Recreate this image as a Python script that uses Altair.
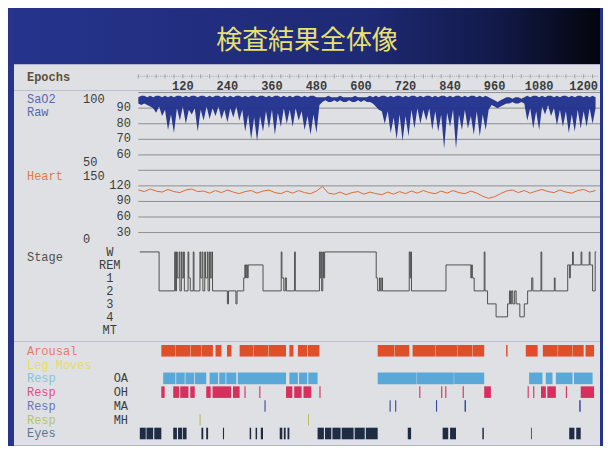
import altair as alt
import pandas as pd

# ---------------- data ----------------
TITLE = ["検査結果全体像"]

EPOCH_LABELS = [120, 240, 360, 480, 600, 720, 840, 960, 1080, 1200]
EPOCH_DOTS = list(range(0, 1237, 6))
EPOCH_TICKS = list(range(0, 1237, 24))

SAO2_EPOCH = list(range(0, 1233, 8))
SAO2_LOW = [93, 92, 93, 92, 91, 90,
            87, 91, 85, 89, 76, 86, 74, 90, 82, 91, 80, 89, 86, 90,
            75, 89, 82, 91, 83, 90, 85, 91, 83, 89, 81, 90, 84, 91, 82, 89,
            75, 86, 70, 84, 69, 85, 75, 88, 77, 89, 73, 87, 78, 90, 80, 89,
            78, 90, 82, 88, 76, 85, 73, 86, 74,
            92,
            94, 95, 94, 94, 95, 94, 95, 94, 94, 95, 94, 94, 95, 94, 95, 94, 94, 93,
            91, 89, 88,
            80, 88, 74, 84, 70, 86, 69, 85, 72, 89, 77, 90, 80, 89, 82, 90, 76, 88,
            75, 86, 64, 87, 78, 89, 64, 86, 76, 89, 77, 85, 73, 88, 72, 86, 76, 89,
            92, 91, 90, 91, 92,
            93, 93, 94, 93, 93, 94, 93,
            82, 90, 77, 88, 76, 91, 86, 92, 85, 90, 79, 89, 78, 88, 74, 86, 75, 89,
            77, 88, 78, 90, 80,
            90]
SAO2_HIGH = [97, 98, 98, 97, 98, 97, 98, 98, 97, 98, 97, 98, 97, 98, 98, 97, 98, 97, 98, 98,
             97, 98, 98, 97, 98, 97, 98, 98, 97, 98, 97, 98, 97, 98, 98, 97, 98, 97, 98, 98,
             97, 98, 98, 97, 98, 97, 98, 98, 97, 98, 97, 98, 97, 98, 98, 97, 98, 97, 98, 98,
             97, 97,
             97, 97, 98, 97, 97, 97, 98, 97, 97, 97, 97, 98, 97, 97, 97, 97, 98, 97,
             98, 97, 98, 98, 97, 98, 97, 98, 98, 97, 98, 97, 98, 98, 97, 98, 97, 98, 98, 97,
             98, 97, 98, 98, 97, 98, 97, 98, 98, 97, 98, 97, 98, 98, 97, 98, 97, 98, 97,
             96, 95, 94, 95, 96,
             97, 97, 96, 97, 97, 96, 97,
             98, 97, 98, 98, 97, 98, 97, 98, 98, 97, 98, 97, 98, 98, 97, 98, 97, 98, 98, 97,
             98, 97, 98, 97]
SAO2_GRID = [100, 90, 80, 70, 60]
SAO2_TICKS = [90, 80, 70, 60]
SAO2_MAX = [100]
SAO2_MIN = [50]

HEART_EPOCH = list(range(0, 1233, 16))
HEART = [112, 109, 114, 110, 108, 113, 109, 107, 112, 114, 109,
         110, 106, 111, 107, 112, 108, 105, 109, 111, 106, 110, 112, 107, 105, 110, 106, 111, 107, 105, 110,
         119, 106,
         104, 108, 103, 107, 109, 104, 108, 105, 103, 108, 104, 109, 105,
         110, 106, 111, 107, 105, 110, 106, 111, 107, 105, 110, 106,
         100, 96, 99,
         105, 110, 112, 107, 111, 106, 110, 113, 109, 107, 112, 108, 106, 111, 113, 108, 111]
HEART_GRID = [150, 120, 90, 60, 30]
HEART_TICKS = [120, 90, 60, 30]
HEART_MAX = [150]
HEART_MIN = [0]

STAGE_NAMES = ["W", "REM", "1", "2", "3", "4", "MT"]
STAGE_EPOCH = [4, 56, 98, 100, 103, 105, 110, 112, 116, 118, 122, 124, 134, 136, 140, 148, 150,
               166, 168, 172, 174, 179, 181, 186, 188, 192, 194, 198, 200, 240, 243, 263, 266,
               284, 287, 289, 291, 294, 296, 336, 385, 387, 392, 396, 399, 421, 423, 488, 490,
               492, 494, 497, 499, 502, 641, 645, 650, 652, 656, 658, 730, 732, 734, 736, 829,
               896, 898, 900, 905, 932, 934, 941, 964, 995, 1000, 1003, 1006, 1009, 1014, 1018,
               1028, 1040, 1049, 1060, 1063, 1085, 1087, 1121, 1123, 1157, 1162, 1164, 1170,
               1172, 1193, 1195, 1215, 1217, 1224, 1231, 1234]
STAGE_LEVEL = [0, 3, 0, 3, 0, 2, 0, 3, 0, 2, 0, 3, 0, 2, 3, 0, 3,
               0, 2, 0, 3, 0, 2, 0, 3, 0, 2, 0, 3, 4, 3, 4, 3,
               2, 1, 2, 1, 2, 1, 3, 0, 2, 3, 2, 3, 0, 3, 0, 2,
               0, 3, 0, 2, 0, 2, 3, 2, 3, 2, 3, 0, 2, 0, 3, 1,
               2, 1, 2, 3, 0, 3, 4, 5, 4, 3, 4, 3, 4, 3, 4,
               5, 4, 3, 2, 3, 0, 3, 2, 3, 1, 2, 1, 0,
               1, 0, 1, 0, 1, 3, 0, 0]

EVENT_ROWS = ["Arousal", "Leg Moves", "Resp OA", "Resp OH", "Resp MA", "Resp MH", "Eyes"]
EVENT_LABELS = ["Arousal", "Leg Moves", "Resp", "Resp", "Resp", "Resp", "Eyes"]
EVENT_SUBLABELS = ["", "", "OA", "OH", "MA", "MH", ""]

AROUSAL = [[62, 100], [101, 140], [141, 170], [171, 201], [208, 224], [239, 251], [273, 310],
           [311, 350], [351, 398], [407, 418], [430, 455], [457, 488], [645, 690], [691, 730],
           [739, 800], [801, 860], [861, 900], [901, 932], [991, 995], [1044, 1076],
           [1090, 1130], [1131, 1170], [1171, 1200], [1205, 1228]]
LEG_MOVES = []
RESP_OA = [[67, 100], [102, 125], [127, 150], [152, 183], [192, 215], [218, 235], [237, 264],
           [268, 398], [407, 430], [433, 455], [458, 483], [645, 750], [751, 850], [851, 932],
           [1053, 1089], [1098, 1116], [1125, 1170], [1174, 1224]]
RESP_OH = [[62, 71], [94, 110], [113, 135], [140, 152], [183, 195], [200, 250], [255, 273],
           [286, 289], [326, 329], [398, 415], [420, 440], [445, 466], [488, 491], [757, 760],
           [816, 819], [827, 830], [874, 877], [932, 950], [1049, 1052], [1064, 1067],
           [1085, 1098], [1102, 1125], [1152, 1155], [1192, 1228]]
RESP_MA = [[340, 343], [677, 680], [692, 695], [802, 805], [879, 883], [1188, 1192]]
RESP_MH = [[165, 168], [457, 460]]
EYES = [[4, 20], [22, 40], [43, 62], [94, 104], [107, 118], [120, 130], [170, 175], [183, 188],
        [228, 231], [300, 304], [316, 320], [330, 336], [381, 388], [392, 397], [402, 407],
        [483, 500], [503, 520], [523, 545], [548, 580], [583, 610], [613, 645], [726, 735],
        [820, 835], [840, 856], [927, 931], [1058, 1060], [1161, 1175], [1180, 1192]]

# ---------------- style / layout ----------------
W = 587
X_DOMAIN = [-335, 1244]
GRID_X = [0, 1244]
LABEL_X = -300      # left label column (epoch units, left of the trace)
COL1_X = -149
COL2_X = -20
STAGE_LABEL_X = -77
SUB_X = -47
FONT = "Liberation Mono"
PANEL_BG = "#dee0e4"
FRAME = "#26348a"
NUM_COLOR = "#3c3c3c"
GRID_COLOR = "#8e8e8e"
BAR_COLORS = ["#e24e2c", "#e0d860", "#5aa8d8", "#d8305e", "#3848a8", "#bcc060", "#1f2d44"]
LABEL_COLORS = ["#e87a6a", "#e6dc6a", "#8cc4d4", "#e0508a", "#6a78b0", "#b4c470", "#587890"]
EVENT_HALF = 0.42

xs = alt.Scale(domain=X_DOMAIN, nice=False, zero=False)


def X(field="epoch"):
    return alt.X(f"{field}:Q", scale=xs, axis=None)


def txt(**kw):
    base = dict(font=FONT, fontSize=12)
    base.update(kw)
    return base


# ---------------- title panel ----------------
grad = alt.LinearGradient(
    gradient="linear", x1=0, x2=1, y1=0, y2=0,
    stops=[alt.GradientStop(offset=0, color="#25338c"),
           alt.GradientStop(offset=0.6, color="#1e2a74"),
           alt.GradientStop(offset=0.82, color="#121a4a"),
           alt.GradientStop(offset=1, color="#04050c")])
title_df = pd.DataFrame({"t": TITLE})
title_bg = alt.Chart(title_df).mark_rect(fill=grad).encode(opacity=alt.value(1))
title_txt = alt.Chart(title_df).mark_text(
    font="Noto Sans CJK JP", fontSize=26, color="#e8e070", dy=5).encode(text="t:N")
title_p = alt.layer(title_bg, title_txt).properties(width=W, height=56)

# ---------------- epoch panel ----------------
ep_lab = pd.DataFrame({"epoch": EPOCH_LABELS, "label": [str(v) for v in EPOCH_LABELS]})
ep_labels = alt.Chart(ep_lab).mark_text(
    **txt(fontWeight="bold", color=NUM_COLOR, dy=9)).encode(x=X(), text="label:N")
ep_dots = alt.Chart(pd.DataFrame({"epoch": EPOCH_DOTS})).mark_tick(
    orient="vertical", size=1, thickness=1, color="#8a8a8a", yOffset=-1).encode(x=X())
ep_ticks = alt.Chart(pd.DataFrame({"epoch": EPOCH_TICKS})).mark_tick(
    orient="vertical", size=4, thickness=1, color="#8a8a8a", yOffset=-1).encode(x=X())
ep_name = alt.Chart(pd.DataFrame({"epoch": [LABEL_X], "t": ["Epochs"]})).mark_text(
    **txt(align="left", color="#5e5038", fontWeight="bold")).encode(x=X(), text="t:N")
epoch_p = alt.layer(ep_dots, ep_ticks, ep_labels, ep_name).properties(width=W, height=26)


# ---------------- value panels ----------------
def value_labels(ys, ticks, vmax, vmin, names, name_color):
    layers = []
    gdf = pd.DataFrame({"v": ticks})
    gdf["epoch"] = COL2_X
    gdf["t"] = [str(v) for v in ticks]
    layers.append(alt.Chart(gdf).mark_text(**txt(align="right", baseline="middle", color=NUM_COLOR, dy=-1))
                  .encode(x=X(), y=alt.Y("v:Q", scale=ys, axis=None), text="t:N"))
    top = pd.DataFrame({"v": vmax, "epoch": COL1_X, "t": [str(v) for v in vmax]})
    layers.append(alt.Chart(top).mark_text(**txt(align="left", baseline="top", color=NUM_COLOR, dy=1))
                  .encode(x=X(), y=alt.Y("v:Q", scale=ys, axis=None), text="t:N"))
    bot = pd.DataFrame({"v": vmin, "epoch": COL1_X, "t": [str(v) for v in vmin]})
    layers.append(alt.Chart(bot).mark_text(**txt(align="left", baseline="bottom", color=NUM_COLOR, dy=-2))
                  .encode(x=X(), y=alt.Y("v:Q", scale=ys, axis=None), text="t:N"))
    for k, name in enumerate(names):
        nm = pd.DataFrame({"v": vmax, "epoch": LABEL_X, "t": [name]})
        layers.append(alt.Chart(nm).mark_text(**txt(align="left", baseline="top", color=name_color,
                                                     dy=1 + 13 * k))
                      .encode(x=X(), y=alt.Y("v:Q", scale=ys, axis=None), text="t:N"))
    return layers


def grid(ys, values):
    g = pd.DataFrame({"v": values})
    g["x0"] = GRID_X[0]
    g["x1"] = GRID_X[1]
    return alt.Chart(g).mark_rule(color=GRID_COLOR, strokeWidth=1).encode(
        x=X("x0"), x2="x1:Q", y=alt.Y("v:Q", scale=ys, axis=None))


ys_sao2 = alt.Scale(domain=[50.9, 101.5], nice=False, zero=False)
sao2_df = pd.DataFrame({"epoch": SAO2_EPOCH, "low": SAO2_LOW, "high": SAO2_HIGH})
sao2_area = alt.Chart(sao2_df).mark_area(color="#1f2e8c", opacity=0.95).encode(
    x=X(), y=alt.Y("high:Q", scale=ys_sao2, axis=None), y2="low:Q")
sao2_p = alt.layer(grid(ys_sao2, SAO2_GRID), sao2_area,
                   *value_labels(ys_sao2, SAO2_TICKS, SAO2_MAX, SAO2_MIN, ["SaO2", "Raw"], "#5a68b0")
                   ).properties(width=W, height=79)

ys_heart = alt.Scale(domain=[4.2, 152.3], nice=False, zero=False)
heart_df = pd.DataFrame({"epoch": HEART_EPOCH, "hr": HEART})
heart_line = alt.Chart(heart_df).mark_line(color="#dc6a34", strokeWidth=1).encode(
    x=X(), y=alt.Y("hr:Q", scale=ys_heart, axis=None))
heart_p = alt.layer(grid(ys_heart, HEART_GRID), heart_line,
                    *value_labels(ys_heart, HEART_TICKS, HEART_MAX, HEART_MIN, ["Heart"], "#e8784a")
                    ).properties(width=W, height=77)

# ---------------- stage panel ----------------
ys_stage = alt.Scale(domain=[-0.46, 6.92], nice=False, zero=False, reverse=True)
stage_df = pd.DataFrame({"epoch": STAGE_EPOCH, "level": STAGE_LEVEL})
stage_line = alt.Chart(stage_df).mark_line(interpolate="step-after", color="#505050", strokeWidth=1).encode(
    x=X(), y=alt.Y("level:Q", scale=ys_stage, axis=None))
sl = pd.DataFrame({"t": STAGE_NAMES, "level": list(range(len(STAGE_NAMES)))})
sl["epoch"] = STAGE_LABEL_X
stage_labels = alt.Chart(sl).mark_text(**txt(align="center", baseline="middle", color=NUM_COLOR)).encode(
    x=X(), y=alt.Y("level:Q", scale=ys_stage, axis=None), text="t:N")
stage_name = alt.Chart(pd.DataFrame({"epoch": [LABEL_X], "level": [0], "t": ["Stage"]})).mark_text(
    **txt(align="left", baseline="middle", color="#505050", dy=5)).encode(
    x=X(), y=alt.Y("level:Q", scale=ys_stage, axis=None), text="t:N")
stage_p = alt.layer(stage_line, stage_labels, stage_name).properties(width=W, height=96)

# ---------------- events panel ----------------
ys_ev = alt.Scale(domain=[-0.65, 6.88], nice=False, zero=False, reverse=True)
recs = []
for i, (key, spans) in enumerate(zip(EVENT_ROWS, [AROUSAL, LEG_MOVES, RESP_OA, RESP_OH, RESP_MA, RESP_MH, EYES])):
    for s, e in spans:
        recs.append({"row": key, "idx": i, "s": s, "e": e})
ev_df = pd.DataFrame(recs)
ev_bars = alt.Chart(ev_df).transform_calculate(
    y0=f"datum.idx - {EVENT_HALF}", y1=f"datum.idx + {EVENT_HALF}"
).mark_rect().encode(
    x=X("s"), x2="e:Q",
    y=alt.Y("y0:Q", scale=ys_ev, axis=None), y2="y1:Q",
    color=alt.Color("row:N", scale=alt.Scale(domain=EVENT_ROWS, range=BAR_COLORS), legend=None))

lab_df = pd.DataFrame({"row": EVENT_ROWS, "t": EVENT_LABELS, "sub": EVENT_SUBLABELS,
                       "idx": list(range(len(EVENT_ROWS)))})
lab_df["epoch"] = LABEL_X
lab_df["epoch2"] = SUB_X
ev_labels = alt.Chart(lab_df).mark_text(**txt(align="left", baseline="middle")).encode(
    x=X(), y=alt.Y("idx:Q", scale=ys_ev, axis=None), text="t:N",
    color=alt.Color("row:N", scale=alt.Scale(domain=EVENT_ROWS, range=LABEL_COLORS), legend=None))
ev_sub = alt.Chart(lab_df).mark_text(**txt(align="center", baseline="middle", color=NUM_COLOR)).encode(
    x=X("epoch2"), y=alt.Y("idx:Q", scale=ys_ev, axis=None), text="sub:N")
events_p = alt.layer(ev_bars, ev_labels, ev_sub).resolve_scale(color="independent").properties(
    width=W, height=104)

chart = alt.vconcat(
    title_p, epoch_p, sao2_p, heart_p, stage_p, events_p,
    spacing=0, bounds="flush",
    padding={"left": 6, "right": 2, "top": 0, "bottom": 0},
    background=FRAME,
).configure_view(stroke=None, fill=PANEL_BG)

chart.save("out.html", embed_options={"renderer": "svg", "actions": False})
